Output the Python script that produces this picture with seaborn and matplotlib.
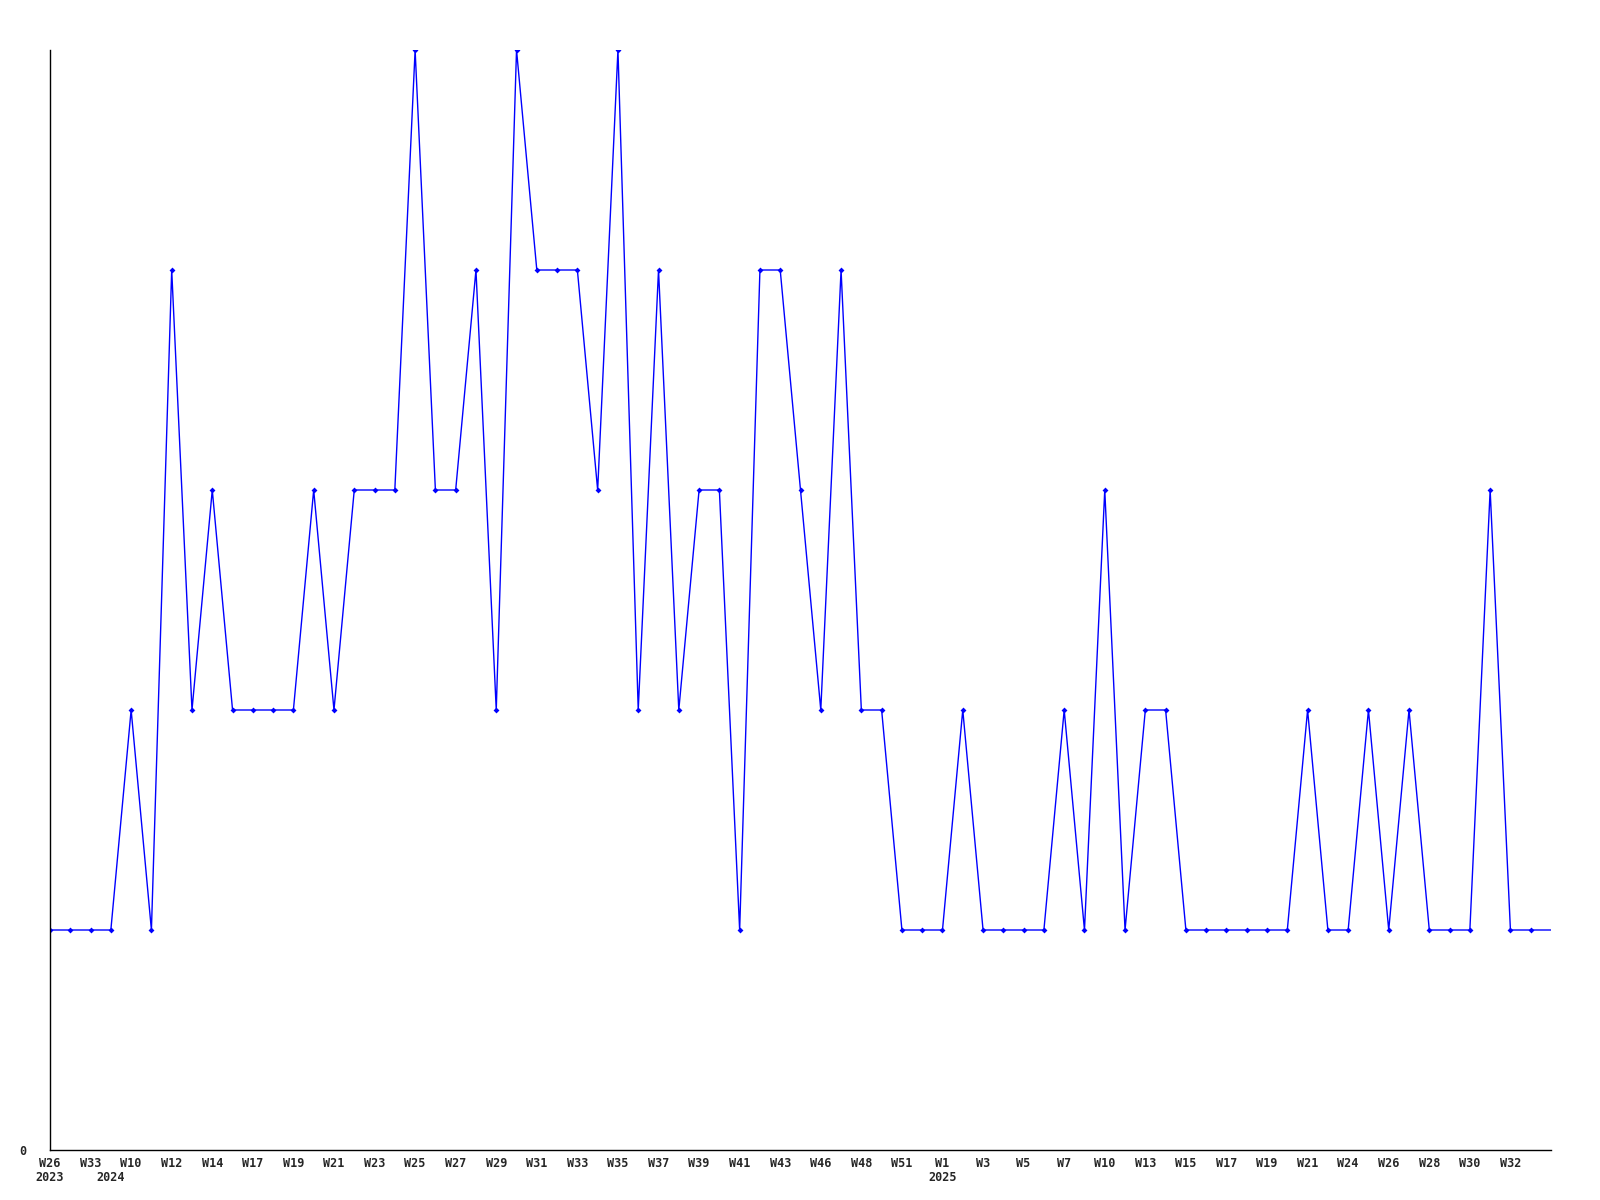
import matplotlib

matplotlib.use("Agg")
import matplotlib.pyplot as plt
import numpy as np
import seaborn as sns

sns.set_style("white")
plt.rcParams["font.family"] = ["DejaVu Sans Mono"]

# weekly counts, one per week point (last one is the running week, no marker)
values = [
    1, 1, 1, 1, 2, 1, 4, 2, 3, 2,
    2, 2, 2, 3, 2, 3, 3, 3, 5, 3,
    3, 4, 2, 5, 4, 4, 4, 3, 5, 2,
    4, 2, 3, 3, 1, 4, 4, 3, 2, 4,
    2, 2, 1, 1, 1, 2, 1, 1, 1, 1,
    2, 1, 3, 1, 2, 2, 1, 1, 1, 1,
    1, 1, 2, 1, 1, 2, 1, 2, 1, 1,
    1, 3, 1, 1, 1,
]

# labels shown on every second point
week_labels = [
    "W26", "W33", "W10", "W12", "W14", "W17", "W19", "W21", "W23", "W25",
    "W27", "W29", "W31", "W33", "W35", "W37", "W39", "W41", "W43", "W46",
    "W48", "W51", "W1", "W3", "W5", "W7", "W10", "W13", "W15", "W17",
    "W19", "W21", "W24", "W26", "W28", "W30", "W32",
]
# year markers: point index -> year
year_pos = [0, 3, 44]
year_labels = ["2023", "2024", "2025"]

x = np.arange(len(values))

fig = plt.figure(figsize=(16, 12), dpi=100)
ax = fig.add_axes([50 / 1600, 50 / 1200, 1501 / 1600, 1100 / 1200])

sns.lineplot(
    x=x,
    y=values,
    ax=ax,
    color="#0000ff",
    linewidth=1,
    marker="D",
    markersize=3,
    markeredgewidth=0,
    markevery=list(range(len(values) - 1)),
)

ax.set_xlim(0, len(values) - 1)
ax.set_ylim(0, 5)

ax.set_xticks(x[::2][: len(week_labels)])
ax.set_xticklabels(week_labels, fontsize=8.5, fontweight="bold")
ax.set_yticks([0])
ax.set_yticklabels(["0"], fontsize=8.5, fontweight="bold")
ax.tick_params(axis="x", length=0, pad=5)
ax.tick_params(axis="y", length=0, pad=17)

# second row: year under the first week of each year
for pos, yr in zip(year_pos, year_labels):
    ax.annotate(
        yr,
        xy=(pos, 0),
        xycoords=("data", "axes fraction"),
        xytext=(0, -20),
        textcoords="offset points",
        ha="center",
        va="center",
        fontsize=8.5,
        fontweight="bold",
    )

for side in ["top", "right"]:
    ax.spines[side].set_visible(False)
for side in ["left", "bottom"]:
    ax.spines[side].set_color("black")
    ax.spines[side].set_linewidth(1)

fig.savefig("out.png", dpi=100)
